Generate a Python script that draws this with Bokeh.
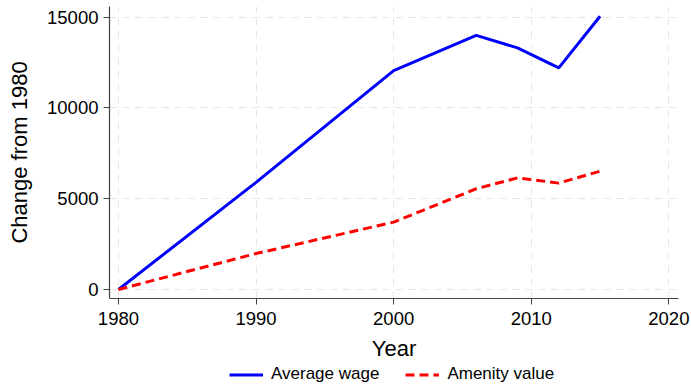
from bokeh.plotting import figure
from bokeh.layouts import column
from bokeh.models import FixedTicker, Legend, LegendItem, Range1d
from bokeh.embed import file_html
from bokeh.resources import INLINE

years = [1980, 1990, 2000, 2006, 2009, 2012, 2015]
avg_wage = [0, 5900, 12060, 14000, 13310, 12210, 15050]
amenity = [0, 1980, 3710, 5550, 6150, 5860, 6520]
x_ticks = [1980, 1990, 2000, 2010, 2020]
y_ticks = [0, 5000, 10000, 15000]
series_names = ["Average wage", "Amenity value"]

FONT = "Liberation Sans"
BLUE = "#0000FF"
RED = "#FF0000"
DASH = "9 5"

p = figure(frame_width=569, frame_height=292, output_backend="svg", toolbar_location=None,
           x_range=Range1d(1979.35, 2020.7), y_range=Range1d(-496, 15590),
           min_border_left=109, min_border_right=13, min_border_top=6, min_border_bottom=0)
p.outline_line_color = None
p.background_fill_color = "white"

p.line(years, avg_wage, line_color=BLUE, line_width=3)
p.line(years, amenity, line_color=RED, line_width=3, line_dash=DASH)

for ax in (p.xaxis[0], p.yaxis[0]):
    ax.axis_line_color = "#444444"
    ax.axis_line_width = 1.2
    ax.major_tick_line_color = "#444444"
    ax.major_tick_out = 6
    ax.major_tick_in = 0
    ax.minor_tick_line_color = None
    ax.major_label_text_font = FONT
    ax.major_label_text_font_size = "18.5px"
    ax.major_label_text_color = "black"
    ax.axis_label_text_font = FONT
    ax.axis_label_text_font_size = "22px"
    ax.axis_label_text_font_style = "normal"
    ax.axis_label_text_color = "black"

p.xaxis.ticker = FixedTicker(ticks=x_ticks)
p.yaxis.ticker = FixedTicker(ticks=y_ticks)
p.xaxis.axis_label = "Year"
p.yaxis.axis_label = "Change from 1980"
p.yaxis.major_label_orientation = "horizontal"
p.xaxis.major_label_standoff = 7
p.xaxis.axis_label_standoff = 8
p.yaxis.major_label_standoff = 5
p.yaxis.axis_label_standoff = 12

for g in (p.xgrid[0], p.ygrid[0]):
    g.grid_line_color = "#e6e6e6"
    g.grid_line_dash = "7 6"
    g.grid_line_width = 1
p.xgrid.ticker = FixedTicker(ticks=x_ticks)
p.ygrid.ticker = FixedTicker(ticks=y_ticks)

# legend strip below the chart (its lines lie outside its own visible range)
p2 = figure(width=691, height=24, output_backend="svg", toolbar_location=None,
            x_range=Range1d(0, 1), y_range=Range1d(0, 1),
            x_axis_type=None, y_axis_type=None, min_border=0)
p2.outline_line_color = None
p2.grid.visible = False
l1 = p2.line(years, avg_wage, line_color=BLUE, line_width=3)
l2 = p2.line(years, amenity, line_color=RED, line_width=3, line_dash=DASH)

legend = Legend(items=[LegendItem(label=series_names[0], renderers=[l1]),
                       LegendItem(label=series_names[1], renderers=[l2])],
                orientation="horizontal", location=(120, 3),
                border_line_color=None, background_fill_alpha=0,
                label_text_font=FONT, label_text_font_size="17px",
                label_text_color="black", label_height=17, glyph_height=17,
                glyph_width=34, label_standoff=8, spacing=26,
                padding=0, margin=0)
p2.add_layout(legend, "center")

layout = column(p, p2, spacing=0)
open("out.html", "w").write(file_html(layout, INLINE))
